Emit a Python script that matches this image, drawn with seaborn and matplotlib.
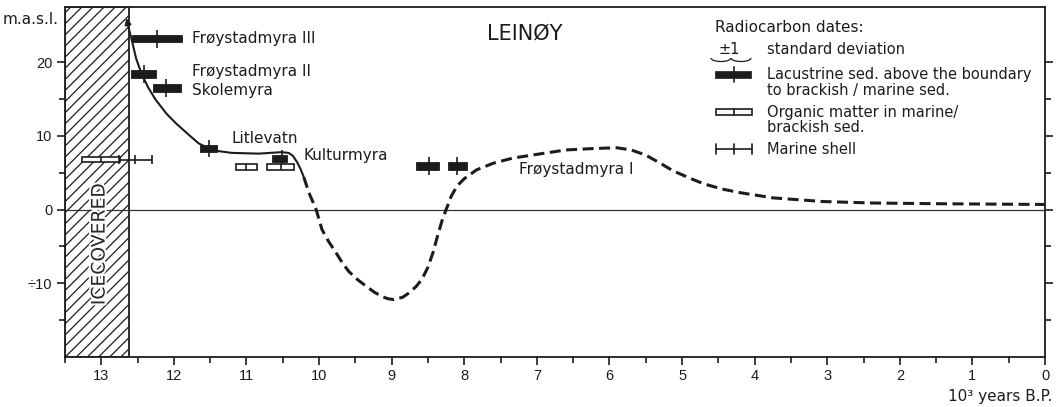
import numpy as np
import pandas as pd
import seaborn as sns
import matplotlib
matplotlib.use("Agg")
import matplotlib.pyplot as plt
import matplotlib.patheffects as pe
from matplotlib.patches import Rectangle, Arc
from matplotlib.lines import Line2D
from matplotlib.ticker import FixedLocator, MultipleLocator

# ---------------- data ----------------
solid_age = [12.58, 12.52, 12.44, 12.35, 12.25, 12.10, 11.97, 11.80, 11.66, 11.52,
             11.43, 11.20, 10.83, 10.52, 10.42, 10.36, 10.30, 10.25, 10.21]
solid_elev = [23.0, 20.5, 18.3, 16.5, 14.9, 13.0, 11.7, 10.2, 9.0, 8.3,
              8.0, 7.7, 7.6, 7.8, 7.7, 7.3, 6.4, 5.4, 4.4]

dashed_age = [10.21, 10.14, 10.04, 9.96, 9.87, 9.77, 9.68, 9.59, 9.47, 9.35, 9.24,
              9.13, 9.05, 8.97, 8.85, 8.76, 8.66, 8.58, 8.50, 8.43, 8.36, 8.30,
              8.25, 8.18, 8.10, 8.00, 7.83, 7.60, 7.33, 7.00, 6.60, 6.20, 5.90,
              5.70, 5.50, 5.30, 5.13, 4.90, 4.70, 4.45, 4.20, 3.75, 3.06, 2.37,
              1.45, 0.00]
dashed_elev = [4.4, 2.3, 0.0, -2.7, -4.3, -5.8, -7.2, -8.4, -9.5, -10.4, -11.2,
               -11.8, -12.1, -12.2, -11.9, -11.3, -10.4, -9.4, -7.8, -5.8, -3.3, -1.3,
               0.0, 1.8, 3.2, 4.2, 5.4, 6.3, 7.0, 7.5, 8.1, 8.3, 8.4,
               8.1, 7.4, 6.3, 5.3, 4.3, 3.5, 2.8, 2.3, 1.6, 1.1, 0.9,
               0.8, 0.7]

# lacustrine sediment dates (black bars)
lac_old = [12.58, 12.59, 12.29, 11.64, 10.65, 8.66, 8.23]
lac_young = [11.89, 12.25, 11.90, 11.40, 10.44, 8.35, 7.96]
lac_mid = [12.23, 12.41, 12.11, 11.52, 10.51, 8.49, 8.10]
lac_elev = [23.2, 18.4, 16.5, 8.3, 6.9, 5.9, 5.9]

# organic matter in marine / brackish sediment (open boxes)
org_old = [13.26, 11.15, 10.72]
org_young = [12.74, 10.86, 10.34]
org_mid = [13.00, 11.00, 10.53]
org_elev = [6.8, 5.8, 5.8]

# marine shell
shell_old = [12.76]
shell_young = [12.30]
shell_mid = [12.54]
shell_elev = [6.8]

ice_limit = 12.62

site_names = ["Frøystadmyra III", "Frøystadmyra II", "Skolemyra",
              "Litlevatn", "Kulturmyra", "Frøystadmyra I"]

x_ticks = list(range(0, 14))
x_tick_labels = [str(v) for v in x_ticks]
y_ticks = [-10, 0, 10, 20]
y_tick_labels = ["÷10", "0", "10", "20"]
y_minor = [-15, -5, 5, 15]

# ---------------- style ----------------
sns.set_theme(style="ticks")
plt.rcParams["font.family"] = ["DejaVu Sans"]
plt.rcParams["hatch.linewidth"] = 0.9
INK = "#1c1c1c"
plt.rcParams["hatch.color"] = INK

W, H = 1057, 407
fig = plt.figure(figsize=(W / 100, H / 100), dpi=100)
fig.patch.set_facecolor("white")
ax = fig.add_axes([65 / W, 1 - 357 / H, 980 / W, 350 / H])
ax.set_facecolor("white")

ax.set_xlim(13.5, 0)
ax.set_ylim(-20, 27.5)

# ice covered area
ax.axvspan(13.5, ice_limit, facecolor="white", edgecolor=INK, hatch="///",
           linewidth=1.3, zorder=0.5)
ax.text(13.03, -4.7, "ICECOVERED", rotation=90, ha="center", va="center",
        fontsize=13.5, color="#2a2a2a", zorder=3,
        path_effects=[pe.withStroke(linewidth=3, foreground="white")])

# zero line
ax.axhline(0, color="#333333", lw=0.9, zorder=1)

# shoreline curve
sns.lineplot(x=solid_age, y=solid_elev, sort=False, estimator=None, ax=ax,
             color=INK, linewidth=1.5, zorder=4)
sns.lineplot(x=dashed_age, y=dashed_elev, sort=False, estimator=None, ax=ax,
             color=INK, linewidth=2.2, linestyle=(0, (3.6, 1.8)),
             dash_capstyle="butt", zorder=4)
ax.annotate("", xy=(12.655, 26.0), xytext=(solid_age[0], solid_elev[0]),
            arrowprops=dict(arrowstyle="-|>", color=INK, lw=1.4,
                            mutation_scale=9, shrinkA=0, shrinkB=0), zorder=4)

# lacustrine dates
lac_old_a = np.array(lac_old)
lac_young_a = np.array(lac_young)
lac_elev_a = np.array(lac_elev)
ax.barh(lac_elev, lac_old_a - lac_young_a, left=lac_young, height=1.0,
        color=INK, edgecolor=INK, linewidth=0.6, zorder=5)
ax.vlines(lac_mid, lac_elev_a - 1.2, lac_elev_a + 1.2, color=INK, lw=1.2, zorder=5)

# organic matter dates
org_old_a = np.array(org_old)
org_young_a = np.array(org_young)
org_elev_a = np.array(org_elev)
ax.barh(org_elev, org_old_a - org_young_a, left=org_young, height=0.8,
        facecolor="white", edgecolor=INK, linewidth=1.2, zorder=5)
ax.vlines(org_mid, org_elev_a - 0.4, org_elev_a + 0.4, color=INK, lw=1.2, zorder=5)

# marine shell
shell_elev_a = np.array(shell_elev)
ax.hlines(shell_elev, shell_young, shell_old, color=INK, lw=1.2, zorder=5)
for xs in (shell_old, shell_mid, shell_young):
    ax.vlines(xs, shell_elev_a - 0.6, shell_elev_a + 0.6, color=INK, lw=1.2, zorder=5)

# site labels (layout positions)
label_pos = [(11.75, 23.2), (11.75, 18.7), (11.75, 16.1),
             (11.21, 9.7), (10.21, 7.4), (7.24, 5.5)]
for name, (lx, ly) in zip(site_names, label_pos):
    ax.text(lx, ly, name, ha="left", va="center", fontsize=11, color=INK, zorder=6)

ax.text(7.17, 23.9, "LEINØY", ha="center", va="center", fontsize=15, color=INK)

# axes, ticks
for sp in ax.spines.values():
    sp.set_visible(True)
    sp.set_color(INK)
    sp.set_linewidth(1.3)
ax.set_xticks(x_ticks)
ax.set_xticklabels(x_tick_labels, fontfamily="Liberation Sans")
ax.xaxis.set_minor_locator(MultipleLocator(0.5))
ax.set_yticks(y_ticks)
ax.set_yticklabels(y_tick_labels, fontfamily="Liberation Sans")
ax.yaxis.set_minor_locator(FixedLocator(y_minor))
ax.tick_params(axis="both", which="major", direction="out", length=6, width=1.2,
               color=INK, labelcolor=INK, labelsize=10.5, pad=3)
ax.tick_params(axis="both", which="minor", direction="out", length=4, width=1.2,
               color=INK)
ax.tick_params(axis="y", which="both", right=True, labelright=False)
ax.tick_params(axis="x", which="both", top=False)
ax.grid(False)

ax.text(-0.007, 0.963, "m.a.s.l.", transform=ax.transAxes, ha="right",
        va="center", fontsize=11, color=INK)
fig.text(1052 / W, 1 - 396 / H, "10³ years B.P.", ha="right", va="center",
         fontsize=11, color=INK)

# ---------------- legend (drawn in figure pixel layout) ----------------
def fx(px):
    return px / W


def fy(py):
    return 1 - py / H


fig.text(fx(715), fy(28), "Radiocarbon dates:", ha="left", va="center",
         fontsize=11, color=INK)
fig.text(fx(729), fy(50), "±1", ha="center", va="center", fontsize=10.5, color=INK)
for cx in (721, 741):
    fig.add_artist(Arc((fx(cx), fy(58)), 20 / W, 7 / H, theta1=180, theta2=360,
                       transform=fig.transFigure, color=INK, lw=0.9))
fig.text(fx(767), fy(50), "standard deviation", ha="left", va="center",
         fontsize=10.5, color=INK)

# black bar symbol
fig.add_artist(Rectangle((fx(715), fy(78)), 36 / W, 7 / H, transform=fig.transFigure,
                         facecolor=INK, edgecolor=INK, lw=0.5))
fig.add_artist(Line2D([fx(734), fx(734)], [fy(67), fy(82)], transform=fig.transFigure,
                      color=INK, lw=1.2))
fig.text(fx(767), fy(74), "Lacustrine sed. above the boundary", ha="left",
         va="center", fontsize=10.5, color=INK)
fig.text(fx(767), fy(91), "to brackish / marine sed.", ha="left", va="center",
         fontsize=10.5, color=INK)

# open box symbol
fig.add_artist(Rectangle((fx(716), fy(115)), 36 / W, 6 / H, transform=fig.transFigure,
                         facecolor="white", edgecolor=INK, lw=1.2))
fig.add_artist(Line2D([fx(734), fx(734)], [fy(109), fy(115)], transform=fig.transFigure,
                      color=INK, lw=1.2))
fig.text(fx(767), fy(112), "Organic matter in marine/", ha="left", va="center",
         fontsize=10.5, color=INK)
fig.text(fx(767), fy(128), "brackish sed.", ha="left", va="center",
         fontsize=10.5, color=INK)

# marine shell symbol
fig.add_artist(Line2D([fx(716), fx(752)], [fy(149), fy(149)], transform=fig.transFigure,
                      color=INK, lw=1.2))
for tx in (716, 734, 752):
    fig.add_artist(Line2D([fx(tx), fx(tx)], [fy(144), fy(154)],
                          transform=fig.transFigure, color=INK, lw=1.2))
fig.text(fx(767), fy(149), "Marine shell", ha="left", va="center",
         fontsize=10.5, color=INK)

fig.savefig("out.png", dpi=100, facecolor="white")
